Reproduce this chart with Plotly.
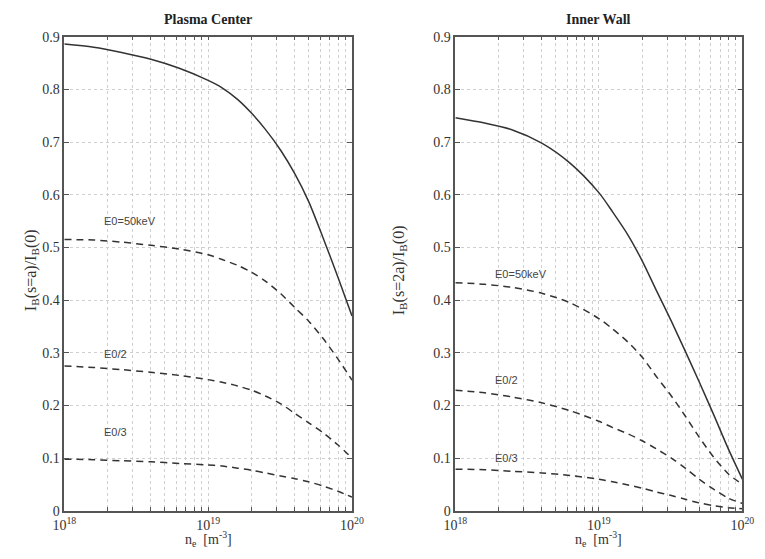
import math
import plotly.graph_objects as go

# ---- data ----
ne = [1e18, 1.6e18, 2.5e18, 4e18, 6.3e18, 1e19, 1.25e19, 1.6e19, 2e19, 2.5e19,
      3.2e19, 4e19, 5e19, 6.3e19, 8e19, 1e20]

center_solid = [0.886, 0.880, 0.870, 0.857, 0.840, 0.817, 0.803, 0.781, 0.755, 0.724,
                0.684, 0.640, 0.587, 0.518, 0.443, 0.370]
center_e0 = [0.515, 0.514, 0.510, 0.504, 0.497, 0.486, 0.477, 0.466, 0.453, 0.436,
             0.412, 0.386, 0.360, 0.327, 0.288, 0.248]
center_e0_2 = [0.275, 0.272, 0.268, 0.263, 0.257, 0.249, 0.244, 0.237, 0.229, 0.218,
               0.203, 0.185, 0.167, 0.148, 0.125, 0.100]
center_e0_3 = [0.098, 0.097, 0.095, 0.093, 0.090, 0.087, 0.085, 0.081, 0.077, 0.072,
               0.066, 0.061, 0.055, 0.047, 0.037, 0.026]

wall_solid = [0.746, 0.736, 0.723, 0.698, 0.660, 0.604, 0.567, 0.523, 0.475, 0.420,
              0.360, 0.303, 0.245, 0.183, 0.117, 0.060]
wall_e0 = [0.433, 0.430, 0.424, 0.413, 0.395, 0.365, 0.345, 0.320, 0.292, 0.256,
           0.218, 0.180, 0.140, 0.102, 0.070, 0.050]
wall_e0_2 = [0.229, 0.224, 0.216, 0.205, 0.190, 0.170, 0.158, 0.146, 0.133, 0.118,
             0.100, 0.081, 0.060, 0.041, 0.024, 0.014]
wall_e0_3 = [0.079, 0.078, 0.075, 0.072, 0.067, 0.060, 0.055, 0.049, 0.043, 0.036,
             0.029, 0.022, 0.015, 0.010, 0.006, 0.004]

curve_labels = ["E0=50keV", "E0/2", "E0/3"]
label_x = 2e18
center_label_y = [0.55, 0.298, 0.15]
wall_label_y = [0.45, 0.248, 0.10]

titles = ["Plasma Center", "Inner Wall"]
ylabels = ["I<sub>B</sub>(s=a)/I<sub>B</sub>(0)", "I<sub>B</sub>(s=2a)/I<sub>B</sub>(0)"]
xlabel = "n<sub>e</sub>  [m<sup>-3</sup>]"

x_tickvals = [float(m) * 10.0 ** e for e in (18, 19) for m in range(1, 10)] + [1e20]
x_ticktext = ["10<sup>%d</sup>" % e if m == 1 else "" for e in (18, 19) for m in range(1, 10)] + ["10<sup>20</sup>"]
y_tickvals = [i / 10 for i in range(10)]
y_ticktext = ["0"] + ["0.%d" % i for i in range(1, 10)]

LINE = "#333333"
AX = "#555555"
GRID = "#cfcfcf"
SERIF = "Liberation Serif, Times New Roman, serif"
SANS = "Liberation Sans, Arial, sans-serif"

fig = go.Figure()

panels = [
    ("x", "y", center_solid, [center_e0, center_e0_2, center_e0_3], center_label_y),
    ("x2", "y2", wall_solid, [wall_e0, wall_e0_2, wall_e0_3], wall_label_y),
]
for xa, ya, solid, dashed, ly in panels:
    fig.add_trace(go.Scatter(x=ne, y=solid, xaxis=xa, yaxis=ya, mode="lines",
                             line=dict(color=LINE, width=1.5, shape="spline", smoothing=0.8),
                             showlegend=False))
    for d in dashed:
        fig.add_trace(go.Scatter(x=ne, y=d, xaxis=xa, yaxis=ya, mode="lines",
                                 line=dict(color=LINE, width=1.5, dash="7px,5px",
                                           shape="spline", smoothing=0.8),
                                 showlegend=False))
    for t, yv in zip(curve_labels, ly):
        # annotations on log axes take log10 of the data value
        fig.add_annotation(x=math.log10(label_x), y=yv, xref=xa, yref=ya, text=t,
                           showarrow=False, xanchor="left", yanchor="middle", xshift=-6,
                           font=dict(family=SANS, size=11, color="#444"))

xaxis_common = dict(type="log", range=[18, 20], tickvals=x_tickvals, ticktext=x_ticktext,
                    ticks="inside", ticklen=4, tickcolor=AX, showline=True, linecolor=AX,
                    linewidth=1.5, mirror="allticks", showgrid=True, gridcolor=GRID,
                    griddash="dot", gridwidth=1, zeroline=False, ticklabelstandoff=1,
                    tickfont=dict(family=SERIF, size=14, color="#333"))
yaxis_common = dict(range=[0, 0.9], tickvals=y_tickvals, ticktext=y_ticktext,
                    ticks="inside", ticklen=5, tickcolor=AX, showline=True, linecolor=AX,
                    linewidth=1.5, mirror="allticks", showgrid=True, gridcolor=GRID,
                    griddash="dot", gridwidth=1, zeroline=False,
                    tickfont=dict(family=SERIF, size=14, color="#333"))

W, H = 765, 559
fig.update_layout(
    width=W, height=H, margin=dict(l=0, r=0, t=0, b=0),
    paper_bgcolor="white", plot_bgcolor="white", showlegend=False,
    xaxis=dict(domain=[54 / W, 351 / W], anchor="y", **xaxis_common),
    yaxis=dict(domain=[1 - 517.7 / H, 1 - 30.5 / H], anchor="x", **yaxis_common),
    xaxis2=dict(domain=[457.7 / W, 754 / W], anchor="y2", **xaxis_common),
    yaxis2=dict(domain=[1 - 517.7 / H, 1 - 30.5 / H], anchor="x2", **yaxis_common),
)

# titles and axis labels
for cx, title, ylab, ylx in [(202.5, titles[0], ylabels[0], 20), (606, titles[1], ylabels[1], 400)]:
    fig.add_annotation(x=cx / W, y=1 - 13 / H, xref="paper", yref="paper", text="<b>%s</b>" % title,
                       showarrow=False, xanchor="center", yanchor="middle",
                       font=dict(family=SERIF, size=14, color="#222"))
    fig.add_annotation(x=cx / W, y=0, xref="paper", yref="paper", text=xlabel,
                       showarrow=False, xanchor="center", yanchor="bottom",
                       font=dict(family=SERIF, size=14, color="#333"))
    fig.add_annotation(x=ylx / W, y=1 - 270 / H, xref="paper", yref="paper", text=ylab,
                       showarrow=False, xanchor="center", yanchor="middle", textangle=-90,
                       font=dict(family=SERIF, size=16, color="#333"))

fig.write_html("out.html")
